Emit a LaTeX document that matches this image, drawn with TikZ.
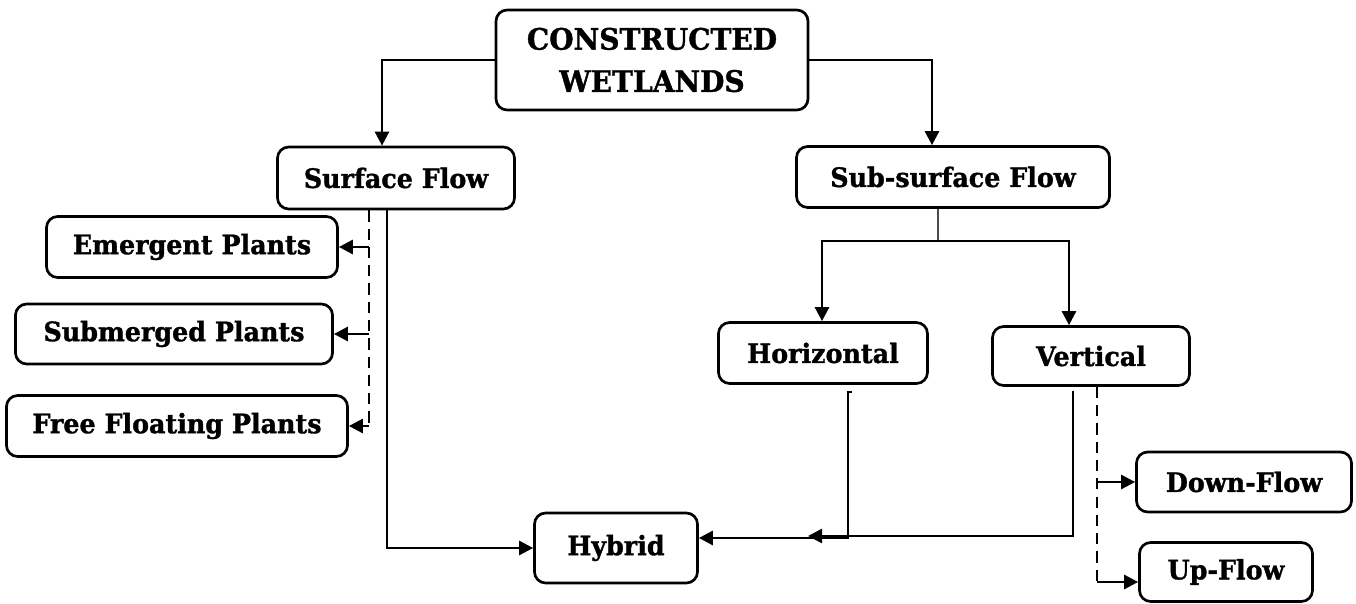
\documentclass[tikz,border=0pt]{standalone}
\usepackage{fontspec}
\setmainfont{DejaVu Serif}[BoldFeatures={FakeBold=1.2,FakeStretch=0.95}]
\usetikzlibrary{arrows.meta}

\begin{document}
\begin{tikzpicture}[x=0.025cm,y=-0.025cm]
		\useasboundingbox (0,0) rectangle (1356,604);
		\begin{scope}[every node/.style={draw,rounded corners=8pt,line width=1.9pt,inner sep=0pt,align=center,
		              font=\bfseries\fontsize{19}{22}\selectfont}]
		    \node[minimum width=7.8cm,minimum height=2.5cm,font=\bfseries\fontsize{21}{30}\selectfont] (cw) at (652,60) {CONSTRUCTED\\WETLANDS};
		    \node[minimum width=5.925cm,minimum height=1.55cm] (sf) at (396,178) {Surface Flow};
		    \node[minimum width=7.825cm,minimum height=1.525cm] (ssf) at (953,177) {Sub-surface Flow};
		    \node[minimum width=7.275cm,minimum height=1.525cm] (em) at (192,247) {Emergent Plants};
		    \node[minimum width=7.925cm,minimum height=1.5cm] (sub) at (174,334) {Submerged Plants};
		    \node[minimum width=8.525cm,minimum height=1.525cm] (ff) at (177,426) {Free Floating Plants};
		    \node[minimum width=5.225cm,minimum height=1.525cm] (hor) at (823,353) {Horizontal};
		    \node[minimum width=4.925cm,minimum height=1.475cm] (ver) at (1091,356) {Vertical};
		    \node[minimum width=4.075cm,minimum height=1.75cm] (hyb) at (616,548) {Hybrid};
		    \node[minimum width=5.375cm,minimum height=1.5cm] (down) at (1244,482) {Down-Flow};
		    \node[minimum width=4.325cm,minimum height=1.475cm] (up) at (1226,572) {Up-Flow};
		\end{scope}
		
		% points the connectors turn at
		\coordinate (sfx) at (382,0);
		\coordinate (ssfx) at (932,0);
		\coordinate (split) at (938,241);
		\coordinate (horx) at (822,0);
		\coordinate (verx) at (1069,0);
		\coordinate (sfd) at (369,0);
		\coordinate (sfs) at (387,0);
		\coordinate (hx) at (848,392);
		\coordinate (vs) at (1073,391);
		\coordinate (vend) at (808,536);
		\coordinate (vd) at (1097,0);
		
		\begin{scope}[>={Triangle[length=10pt,width=10pt]},
		              line width=1.9pt,line join=miter,
		              dsh/.style={dash pattern=on 8pt off 5pt}]
		    \draw[->] (cw.west) -| (sfx |- sf.north);
		    \draw[->] (cw.east) -| (ssfx |- ssf.north);
		    \draw[line width=0.9pt,gray!60!black] (split |- ssf.south) -- (split);
		    \draw[->] (split) -| (horx |- hor.north);
		    \draw[->] (split) -| (verx |- ver.north);
		    % surface flow
		    \draw[dsh] (sfd |- sf.south) -- (sfd |- ff.east);
		    \draw[->] (sfd |- em.east) -- (em.east);
		    \draw[->] (sfd |- sub.east) -- (sub.east);
		    \draw[->] (sfd |- ff.east) -- (ff.east);
		    \draw[->] (sfs |- sf.south) |- (hyb.west);
		    % sub-surface flow
		    \draw[->] ([xshift=0.1cm]hx) -- (hx) |- ([yshift=0.25cm]hyb.east);
		    \draw[->] (vs) |- (vend);
		    \draw[dsh] (vd |- ver.south) -- (vd |- 0,582);
		    \draw[->] (vd |- down.west) -- (down.west);
		    \draw[->] (vd |- 0,582) -- (up.west |- 0,582);
		\end{scope}
\end{tikzpicture}
\end{document}
